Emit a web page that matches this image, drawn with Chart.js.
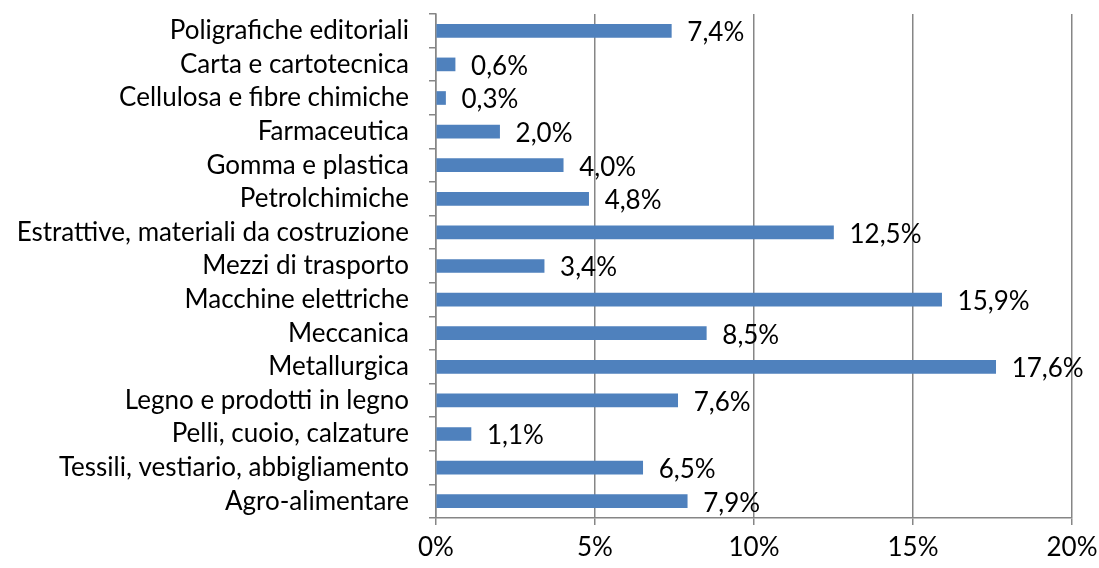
<!DOCTYPE html>
<html>
<head>
<meta charset="utf-8">
<script src="https://cdn.jsdelivr.net/npm/chart.js@4/dist/chart.umd.min.js"></script>
<style>
  html, body { margin: 0; padding: 0; background: #fff; }
  #wrap { width: 1099px; height: 568px; position: relative; }
</style>
</head>
<body>
<div id="wrap"><canvas id="chart"></canvas></div>
<script>
const categories = [
  'Poligrafiche editoriali',
  'Carta e cartotecnica',
  'Cellulosa e fibre chimiche',
  'Farmaceutica',
  'Gomma e plastica',
  'Petrolchimiche',
  'Estrattive, materiali da costruzione',
  'Mezzi di trasporto',
  'Macchine elettriche',
  'Meccanica',
  'Metallurgica',
  'Legno e prodotti in legno',
  'Pelli, cuoio, calzature',
  'Tessili, vestiario, abbigliamento',
  'Agro-alimentare'
];
const shares = [7.4, 0.6, 0.3, 2.0, 4.0, 4.8, 12.5, 3.4, 15.9, 8.5, 17.6, 7.6, 1.1, 6.5, 7.9];
const xTicks = [0, 5, 10, 15, 20];

const FONT = 'Lato';
const FONT_SIZE = 26;

// percent labels to the right of each bar
const valueLabels = {
  id: 'valueLabels',
  afterDatasetsDraw(chart) {
    const ctx = chart.ctx;
    const meta = chart.getDatasetMeta(0);
    ctx.save();
    ctx.font = FONT_SIZE + 'px "' + FONT + '"';
    ctx.fillStyle = '#000';
    ctx.textBaseline = 'middle';
    ctx.textAlign = 'left';
    meta.data.forEach((bar, i) => {
      const txt = shares[i].toFixed(1).replace('.', ',') + '%';
      ctx.fillText(txt, bar.x + 16, bar.y + 2);
    });
    ctx.restore();
  }
};

new Chart(document.getElementById('chart'), {
  type: 'bar',
  data: {
    labels: categories,
    datasets: [{
      data: shares,
      backgroundColor: '#4F81BD',
      borderWidth: 0,
      barThickness: 13
    }]
  },
  options: {
    indexAxis: 'y',
    responsive: true,
    maintainAspectRatio: false,
    animation: false,
    layout: { padding: { top: 14, right: 27, left: 0, bottom: 0 } },
    plugins: {
      legend: { display: false },
      tooltip: { enabled: false }
    },
    scales: {
      x: {
        min: 0,
        max: 20,
        afterBuildTicks: s => { s.ticks = xTicks.map(v => ({ value: v })); },
        afterFit: s => { s.height = 50; s.paddingLeft = 0; s.paddingRight = 0; },
        grid: {
          color: '#868686',
          lineWidth: 1.5,
          tickLength: 7
        },
        border: { color: '#868686', width: 1.5 },
        ticks: {
          color: '#000',
          padding: 7,
          font: { family: FONT, size: FONT_SIZE },
          callback: v => v + '%'
        }
      },
      y: {
        afterFit: s => { s.width = 436; s.paddingTop = 0; s.paddingBottom = 0; },
        grid: {
          drawOnChartArea: false,
          color: '#868686',
          lineWidth: 1.5,
          tickLength: 7
        },
        border: { color: '#868686', width: 1.5 },
        ticks: {
          color: '#000',
          padding: 20,
          autoSkip: false,
          font: { family: FONT, size: FONT_SIZE, lineHeight: 1 }
        }
      }
    }
  },
  plugins: [valueLabels]
});
</script>
</body>
</html>
